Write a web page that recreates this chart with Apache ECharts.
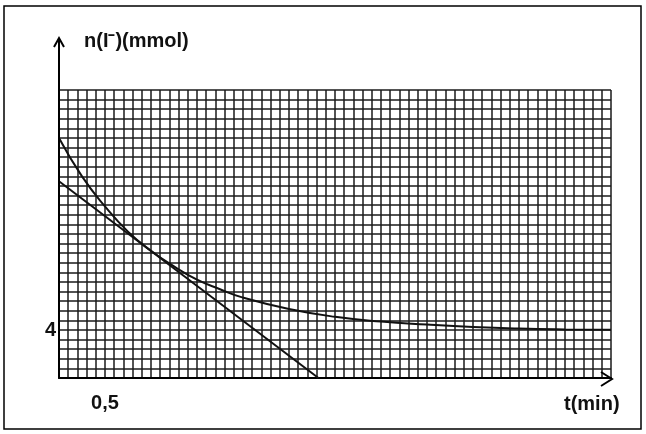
<!DOCTYPE html>
<html>
<head>
<meta charset="utf-8">
<script src="https://cdn.jsdelivr.net/npm/echarts@6/dist/echarts.min.js"></script>
<style>
html,body{margin:0;padding:0;background:#fff;}
#c{width:646px;height:434px;}
</style>
</head>
<body>
<div id="c"></div>
<script>
// time (min) and n(I-) (mmol)
const tValues = [0, 0.25, 0.5, 0.75, 1, 1.25, 1.5, 1.75, 2, 2.5, 3, 3.5, 4, 4.5, 5, 5.5, 6];
const nValues = [20, 16.8, 14.3, 12.2, 10.6, 9.3, 8.2, 7.4, 6.7, 5.75, 5.1, 4.7, 4.45, 4.25, 4.12, 4.05, 4.02];
// tangent line at t = 1 min
const tangentT = [0, 2.82];
const tangentN = [16.4, 0];
// labelled ticks
const xTickLabel = { value: 0.5, text: '0,5' };
const yTickLabel = { value: 4, text: '4' };
const yAxisTitle = 'n(I⁻)(mmol)';
const xAxisTitle = 't(min)';

const chart = echarts.init(document.getElementById('c'), null, { renderer: 'canvas' });
const FONT = '"Liberation Sans", Arial, sans-serif';
const gridColor = '#1a1a1a';

const option = {
  animation: false,
  backgroundColor: '#fff',
  grid: { left: 59, top: 90, right: 35, bottom: 56, containLabel: false },
  xAxis: {
    type: 'value', min: 0, max: 6, interval: 0.1,
    axisLine: { show: true, lineStyle: { color: '#000', width: 2 } },
    axisTick: { show: false },
    splitLine: { show: true, lineStyle: { color: gridColor, width: 1.5 } },
    axisLabel: {
      margin: 15, color: '#111', fontSize: 20, fontWeight: 'bold', fontFamily: FONT,
      formatter: v => Math.abs(v - xTickLabel.value) < 1e-6 ? xTickLabel.text : ''
    }
  },
  yAxis: {
    type: 'value', min: 0, max: 24, interval: 0.8,
    axisLine: { show: true, lineStyle: { color: '#000', width: 2 } },
    axisTick: { show: false },
    splitLine: { show: true, lineStyle: { color: gridColor, width: 1.5 } },
    axisLabel: {
      margin: 3, color: '#111', fontSize: 20, fontWeight: 'bold', fontFamily: FONT,
      verticalAlign: 'middle', padding: [6, 0, 0, 0],
      formatter: v => Math.abs(v - yTickLabel.value) < 1e-6 ? yTickLabel.text : ''
    }
  },
  series: [
    {
      type: 'line', smooth: true, symbol: 'none',
      lineStyle: { color: '#111', width: 2 },
      data: tValues.map((t, i) => [t, nValues[i]]),
      z: 5
    },
    {
      type: 'line', symbol: 'none',
      lineStyle: { color: '#111', width: 2 },
      data: tangentT.map((t, i) => [t, tangentN[i]]),
      z: 5
    }
  ]
};
chart.setOption(option);

const o = chart.convertToPixel({ gridIndex: 0 }, [0, 0]);
const xEnd = chart.convertToPixel({ gridIndex: 0 }, [6, 0]);
const yTop = o[1] - 340;

chart.setOption({
  graphic: [
    { type: 'rect', shape: { x: 4, y: 6, width: 637, height: 423 }, style: { fill: 'none', stroke: '#000', lineWidth: 1.5 }, silent: true },
    // y axis extension + arrow
    { type: 'line', shape: { x1: o[0], y1: o[1], x2: o[0], y2: yTop }, style: { stroke: '#000', lineWidth: 2 }, z: 10 },
    { type: 'polyline', shape: { points: [[o[0] - 5, yTop + 9], [o[0], yTop], [o[0] + 5, yTop + 9]] }, style: { stroke: '#000', lineWidth: 2, fill: 'none' }, z: 10 },
    // x axis arrow
    { type: 'polyline', shape: { points: [[xEnd[0] - 10, o[1] - 6], [xEnd[0] + 1, o[1] + 1], [xEnd[0] - 10, o[1] + 8]] }, style: { stroke: '#000', lineWidth: 2, fill: 'none' }, z: 10 },
    { type: 'text', left: 84, top: 31, style: { text: yAxisTitle, font: 'bold 20px ' + FONT, fill: '#111' } },
    { type: 'text', left: 564, top: 394, style: { text: xAxisTitle, font: 'bold 20px ' + FONT, fill: '#111' } }
  ]
});
</script>
</body>
</html>
